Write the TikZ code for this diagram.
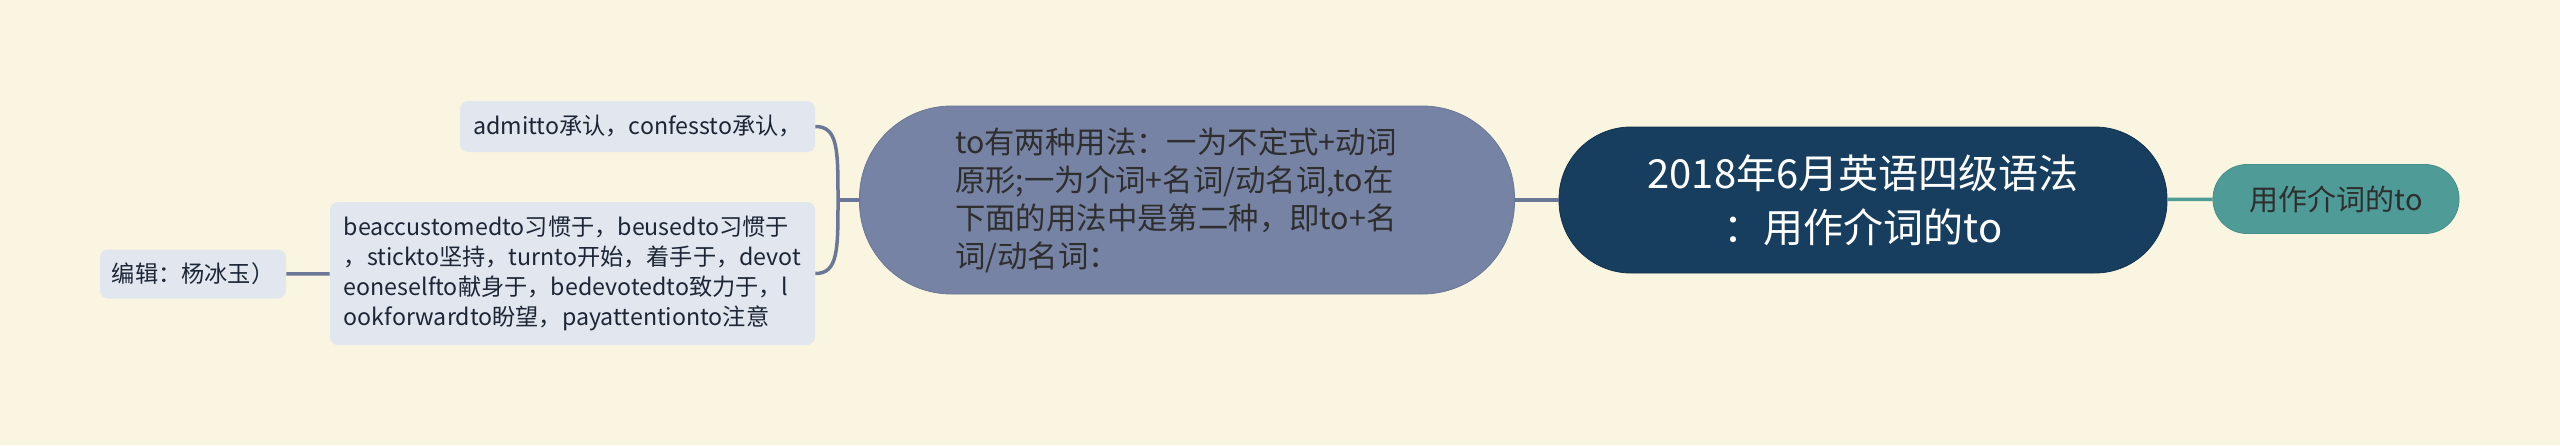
\documentclass[tikz,border=0pt]{standalone}
\usepackage{fontspec}
\newfontfamily\cjk{Noto Sans CJK SC}

\definecolor{paper}{HTML}{FAF5E0}
\definecolor{rootfill}{HTML}{173E5E}
\definecolor{rootline}{HTML}{12324D}
\definecolor{tealfill}{HTML}{4F9B98}
\definecolor{tealline}{HTML}{458F8C}
\definecolor{slatefill}{HTML}{7683A4}
\definecolor{slateline}{HTML}{6B7796}
\definecolor{leaffill}{HTML}{E2E6EE}
\definecolor{leaftext}{HTML}{1C2636}
\definecolor{darktext}{HTML}{2E2E2E}

\begin{document}
\begin{tikzpicture}[x=.5pt,y=-.5pt,
    rootbox/.style={draw=rootline, fill=rootfill, text=white, rounded corners=36pt,
      minimum width=304pt, minimum height=73pt, align=center,
      font=\cjk\fontsize{20}{27}\selectfont},
    usebox/.style={draw=tealline, fill=tealfill, text=darktext, rounded corners=17pt,
      minimum width=123pt, minimum height=34.5pt,
      font=\cjk\fontsize{14.5}{18}\selectfont},
    waysbox/.style={draw=slateline, fill=slatefill, text=darktext, rounded corners=46pt,
      minimum width=327.5pt, minimum height=94pt, text width=232pt, align=left,
      font=\cjk\fontsize{15.2}{19}\selectfont},
    leafbox/.style={fill=leaffill, text=leaftext, rounded corners=4pt, align=left,
      font=\cjk\fontsize{11.6}{15}\selectfont}]

      \useasboundingbox (0,0) rectangle (2560,445);
      \fill[paper] (0,0) rectangle (2560,445);

      \begin{scope}[every node/.style={inner sep=0pt}]
        \node[rootbox] (root) at (1863,200) {2018年6月英语四级语法\\：用作介词的to};
        \node[usebox]  (use)  at (2336,199) {用作介词的to};
        \node[waysbox] (ways) at (1187,200)
          {to有两种用法：一为不定式+动词\\原形;一为介词+名词/动名词,to在\\下面的用法中是第二种，即to+名\\词/动名词：};
        \node[leafbox, minimum width=177.5pt, minimum height=25.5pt] (admit) at (637.5,126.5)
          {admitto承认，confessto承认，};
        \node[leafbox, minimum width=242.5pt, minimum height=71.5pt] (phrases) at (572.5,273.5)
          {beaccustomedto习惯于，beusedto习惯于\\，stickto坚持，turnto开始，着手于，devot\\eoneselfto献身于，bedevotedto致力于，l\\ookforwardto盼望，payattentionto注意};
        \node[leafbox, minimum width=93pt, minimum height=24.5pt] (editor) at (193,274)
          {编辑：杨冰玉）};
      \end{scope}

      \coordinate (j) at (838,200);

      \begin{scope}[line width=1.75pt]
        \path (root) edge[draw=tealfill] (use);
        \begin{scope}[every edge/.style={draw=slateline}]
          \path (ways) edge (root);
          \path (ways) edge (j);
          \path (phrases) edge (editor);
        \end{scope}
        \draw[slateline] (j) .. controls +(0,-50) and (j |- admit.east) .. (admit.east);
        \draw[slateline] (j) .. controls +(0,50) and (j |- phrases.east) .. (phrases.east);
      \end{scope}

    \end{tikzpicture}
\end{document}
